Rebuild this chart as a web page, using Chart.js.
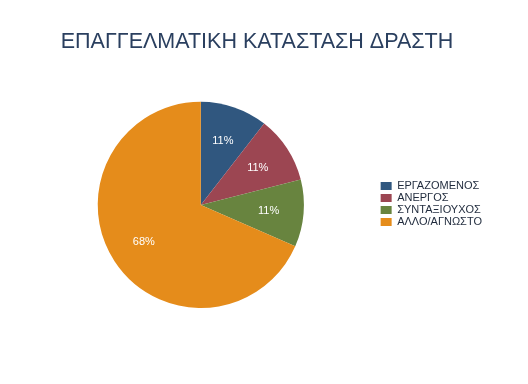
<!DOCTYPE html>
<html>
<head>
<meta charset="utf-8">
<script src="https://cdn.jsdelivr.net/npm/chart.js@4/dist/chart.umd.min.js"></script>
<style>
  html, body { margin: 0; padding: 0; background: #fff; }
  #wrap { width: 528px; height: 384px; }
</style>
</head>
<body>
<div id="wrap"><canvas id="pieChart"></canvas></div>
<script>
// Occupational status of offender

const statusLabels = ['ΕΡΓΑΖΟΜΕΝΟΣ', 'ΑΝΕΡΓΟΣ', 'ΣΥΝΤΑΞΙΟΥΧΟΣ', 'ΑΛΛΟ/ΑΓΝΩΣΤΟ'];
const statusCounts = [2, 2, 2, 13];
const sliceColors = ['#30577f', '#9c4652', '#68843f', '#e58c1b'];

// percent text inside each slice
const sliceLabels = {
    id: 'sliceLabels',
    afterDatasetsDraw(chart) {
        const ctx = chart.ctx;
        const meta = chart.getDatasetMeta(0);
        const total = statusCounts.reduce((a, b) => a + b, 0);
        ctx.save();
        ctx.font = '11px "Liberation Sans", Arial, sans-serif';
        ctx.fillStyle = '#ffffff';
        ctx.textAlign = 'center';
        ctx.textBaseline = 'middle';
        meta.data.forEach(function(arc, i) {
            const mid = (arc.startAngle + arc.endAngle) / 2;
            const r = arc.outerRadius * 0.66;
            const x = arc.x + Math.cos(mid) * r;
            const y = arc.y + Math.sin(mid) * r;
            ctx.fillText(Math.round(statusCounts[i] / total * 100) + '%', x, y);
        });
        ctx.restore();
    }
};

const ctx = document.getElementById('pieChart').getContext('2d');

new Chart(ctx, {
    type: 'pie',
    data: {
        labels: statusLabels,
        datasets: [{
            data: statusCounts,
            backgroundColor: sliceColors,
            borderWidth: 0
        }]
    },
    options: {
        responsive: true,
        maintainAspectRatio: false,
        animation: false,
        layout: {
            padding: { left: 22, right: 36, top: 0, bottom: 76 }
        },
        plugins: {
            title: {
                display: true,
                text: 'ΕΠΑΓΓΕΛΜΑΤΙΚΗ ΚΑΤΑΣΤΑΣΗ ΔΡΑΣΤΗ',
                color: '#2a3f5f',
                font: { family: '"Liberation Sans", Arial, sans-serif', size: 21.5, weight: 'normal' },
                padding: { top: 29, bottom: 47 }
            },
            legend: {
                display: true,
                position: 'right',
                title: {
                    display: true,
                    text: ' ',
                    font: { size: 10 },
                    padding: { top: 88, bottom: 0 }
                },
                labels: {
                    color: '#1f2a3c',
                    font: { family: '"Liberation Sans", Arial, sans-serif', size: 11 },
                    boxWidth: 11,
                    boxHeight: 8,
                    padding: 1
                }
            },
            tooltip: { enabled: false }
        }
    },
    plugins: [sliceLabels]
});
</script>
</body>
</html>
